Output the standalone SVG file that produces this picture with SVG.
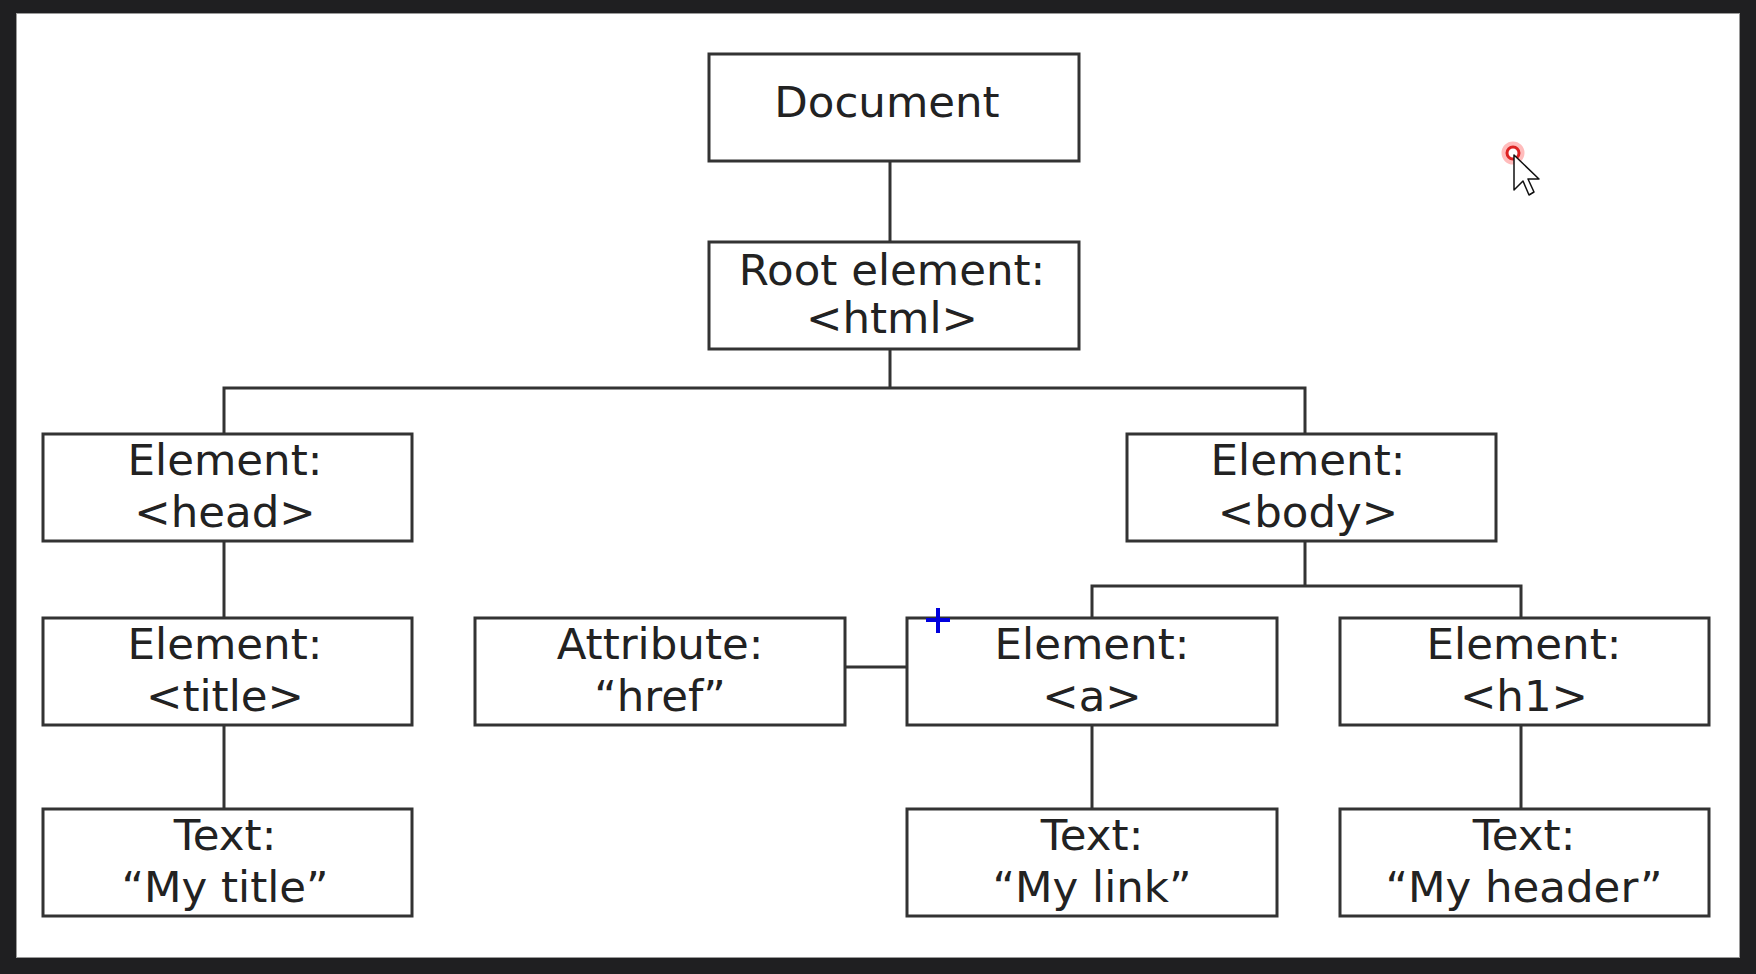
<svg xmlns="http://www.w3.org/2000/svg" width="1756" height="974" viewBox="0 0 1756 974">
  <style>
    .box { fill: #ffffff; stroke: #333333; stroke-width: 3; }
    .lbl { font-family: "DejaVu Sans", Verdana, sans-serif; font-size: 43.5px; fill: #222222; text-anchor: middle; }
    .wire { stroke: #333333; stroke-width: 3; fill: none; }
  </style>
  <rect x="0" y="0" width="1756" height="974" fill="#1f1f21"/>
  <rect x="16" y="13" width="1724" height="945" fill="#9a9a9a"/>
  <rect x="17" y="14" width="1722" height="943" fill="#ffffff"/>

  <g id="connectors">
    <path class="wire" d="M890 161 V242"/>
    <path class="wire" d="M890 349 V388 M224 434 V388 H1305 V434"/>
    <path class="wire" d="M224 541 V618"/>
    <path class="wire" d="M224 725 V809"/>
    <path class="wire" d="M1305 541 V586 M1092 618 V586 H1521 V618"/>
    <path class="wire" d="M845 667 H907"/>
    <path class="wire" d="M1092 725 V809"/>
    <path class="wire" d="M1521 725 V809"/>
  </g>

  <g id="node-document">
    <rect class="box" x="709" y="54" width="370" height="107"/>
    <text class="lbl" x="887" y="117">Document</text>
  </g>
  <g id="node-root">
    <rect class="box" x="709" y="242" width="370" height="107"/>
    <text class="lbl" x="892" y="285">Root element:</text>
    <text class="lbl" x="892" y="333">&lt;html&gt;</text>
  </g>
  <g id="node-head">
    <rect class="box" x="43" y="434" width="369" height="107"/>
    <text class="lbl" x="225" y="475">Element:</text>
    <text class="lbl" x="225" y="527">&lt;head&gt;</text>
  </g>
  <g id="node-body">
    <rect class="box" x="1127" y="434" width="369" height="107"/>
    <text class="lbl" x="1308" y="475">Element:</text>
    <text class="lbl" x="1308" y="527">&lt;body&gt;</text>
  </g>
  <g id="node-title">
    <rect class="box" x="43" y="618" width="369" height="107"/>
    <text class="lbl" x="225" y="659">Element:</text>
    <text class="lbl" x="225" y="711">&lt;title&gt;</text>
  </g>
  <g id="node-attribute">
    <rect class="box" x="475" y="618" width="370" height="107"/>
    <text class="lbl" x="660" y="659">Attribute:</text>
    <text class="lbl" x="660" y="711">“href”</text>
  </g>
  <g id="node-a">
    <rect class="box" x="907" y="618" width="370" height="107"/>
    <text class="lbl" x="1092" y="659">Element:</text>
    <text class="lbl" x="1092" y="711">&lt;a&gt;</text>
  </g>
  <g id="node-h1">
    <rect class="box" x="1340" y="618" width="369" height="107"/>
    <text class="lbl" x="1524" y="659">Element:</text>
    <text class="lbl" x="1524" y="711">&lt;h1&gt;</text>
  </g>
  <g id="node-text-title">
    <rect class="box" x="43" y="809" width="369" height="107"/>
    <text class="lbl" x="225" y="850">Text:</text>
    <text class="lbl" x="225" y="902">“My title”</text>
  </g>
  <g id="node-text-link">
    <rect class="box" x="907" y="809" width="370" height="107"/>
    <text class="lbl" x="1092" y="850">Text:</text>
    <text class="lbl" x="1092" y="902">“My link”</text>
  </g>
  <g id="node-text-header">
    <rect class="box" x="1340" y="809" width="369" height="107"/>
    <text class="lbl" x="1524" y="850">Text:</text>
    <text class="lbl" x="1524" y="902">“My header”</text>
  </g>

  <g id="crosshair">
    <path d="M926 620 H950 M938 608 V633" stroke="#0000dd" stroke-width="4" fill="none"/>
  </g>
  <g id="cursor">
    <circle cx="1513" cy="153" r="8" fill="none" stroke="#ff4040" stroke-width="7" stroke-opacity="0.35"/>
    <circle cx="1513" cy="153" r="6" fill="#ffffff" stroke="#dd2222" stroke-width="3"/>
    <polygon points="1514,155 1514,190 1523,181 1529,195 1534,192 1528,179 1539,179" fill="#ffffff" stroke="#111111" stroke-width="1.5" stroke-linejoin="round"/>
  </g>
</svg>
